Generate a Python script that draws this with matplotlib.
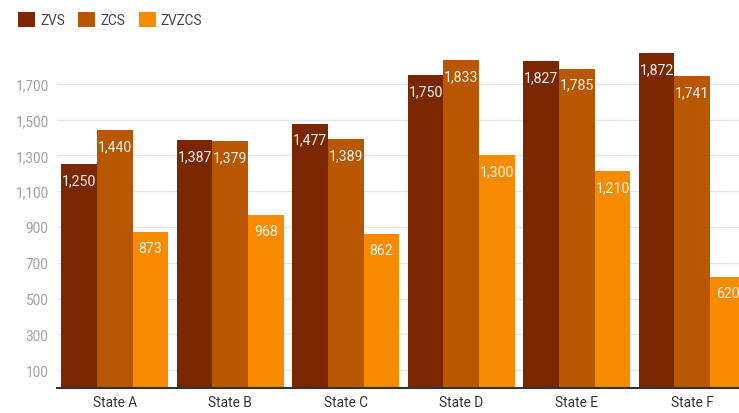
import matplotlib.pyplot as plt
import numpy as np
from matplotlib.patches import Patch

plt.rcParams["font.family"] = ["Roboto", "DejaVu Sans"]

STATES = ["State A", "State B", "State C", "State D", "State E", "State F"]
SERIES = ["ZVS", "ZCS", "ZVZCS"]
ZVS = [1250, 1387, 1477, 1750, 1827, 1872]
ZCS = [1440, 1379, 1389, 1833, 1785, 1741]
ZVZCS = [873, 968, 862, 1300, 1210, 620]
Y_TICKS = [100, 300, 500, 700, 900, 1100, 1300, 1500, 1700]

COLORS = ["#7a2700", "#b95600", "#f68b00"]

fig = plt.figure(figsize=(7.39, 4.14), dpi=100)
# plot area runs a little past the right edge of the canvas
ax = fig.add_axes([57 / 739, 25 / 414, 693 / 739, 340 / 414])

x = np.arange(len(STATES))
width = 0.309
for k, (vals, color) in enumerate(zip([ZVS, ZCS, ZVZCS], COLORS)):
    pos = x + (k - 1) * width
    ax.bar(pos, vals, width=width, color=color, zorder=2)
    for px, v in zip(pos, vals):
        ax.annotate(f"{v:,}", (px, v), xytext=(0, -16), textcoords="offset pixels",
                    ha="center", va="center", color="#f4f4f4", fontsize=10.2, zorder=3)

ax.set_xlim(-0.5, len(STATES) - 0.5)
ax.set_ylim(0, 1900)
ax.set_yticks(Y_TICKS)
ax.set_yticklabels([f"{t:,}" for t in Y_TICKS])
ax.set_xticks(x)
ax.set_xticklabels(STATES)

ax.grid(axis="y", color="#e6e6e6", linewidth=1, zorder=0)
ax.tick_params(axis="y", length=0, labelsize=9.8, labelcolor="#a0a0a0", pad=6)
ax.tick_params(axis="x", length=0, labelsize=9.8, labelcolor="#333333", pad=5)
for side in ["top", "right", "left"]:
    ax.spines[side].set_visible(False)
ax.spines["bottom"].set_color("#333333")
ax.spines["bottom"].set_linewidth(1.5)

handles = [Patch(facecolor=c, label=s) for c, s in zip(COLORS, SERIES)]
fig.legend(handles=handles, loc="upper left", bbox_to_anchor=(0.008, 0.998), ncol=3,
           frameon=False, fontsize=9.8, handlelength=1.25, handleheight=1.3,
           handletextpad=0.35, columnspacing=1.0, labelcolor="#444444")

fig.savefig("out.png", dpi=100)
